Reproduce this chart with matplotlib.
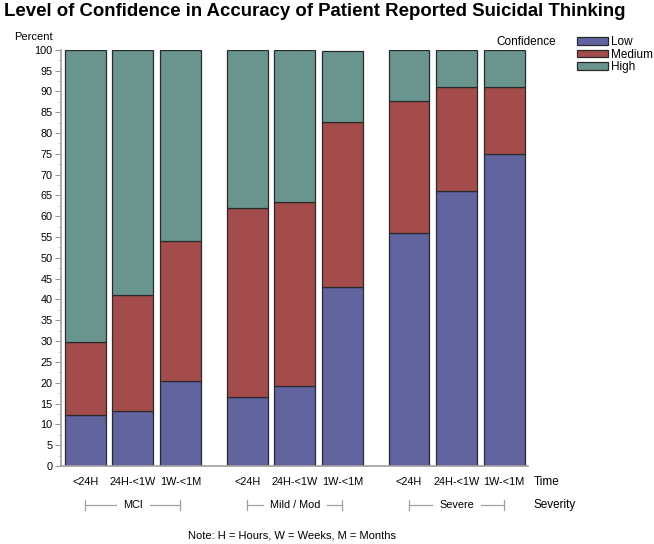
import numpy as np
import matplotlib
matplotlib.use("Agg")
import matplotlib.pyplot as plt
from matplotlib.transforms import blended_transform_factory
from matplotlib.ticker import MultipleLocator

plt.rcParams["font.family"] = ["Liberation Sans", "DejaVu Sans"]

severity = ["MCI", "Mild / Mod", "Severe"]
time_labels = ["<24H", "24H-<1W", "1W-<1M"]
low = [12.2, 13.1, 20.5, 16.5, 19.3, 43.0, 56.0, 66.1, 75.0]
medium = [17.6, 28.0, 33.5, 45.5, 44.2, 39.6, 31.6, 25.0, 16.1]
high = [70.2, 58.9, 46.0, 38.0, 36.5, 17.2, 12.4, 8.9, 8.9]
confidence = ["Low", "Medium", "High"]
colors = ["#6264a0", "#a44c4c", "#6a958f"]

# bar positions: three bars per severity group, gap between groups
group_step = 3.4
xpos = np.array([g * group_step + b for g in range(len(severity)) for b in range(len(time_labels))])

fig = plt.figure(figsize=(6.54, 5.44), dpi=100)
W, H = 654, 544
ax = fig.add_axes([61 / W, 78 / H, (528 - 61) / W, (466 - 49.7) / H])

bottom = np.zeros(len(xpos))
for vals, lab, col in zip([low, medium, high], confidence, colors):
    ax.bar(xpos, vals, width=0.86, bottom=bottom, color=col, edgecolor="#2a2a2a",
           linewidth=0.9, label=lab)
    bottom += np.array(vals)

ax.set_xlim(-0.51, 9.3)
ax.set_ylim(0, 100)
ax.yaxis.set_major_locator(MultipleLocator(5))
ax.yaxis.set_minor_locator(MultipleLocator(2.5))
ax.tick_params(axis="y", which="major", length=4, width=0.8, color="#999999",
               labelsize=7.8, pad=2)
ax.tick_params(axis="y", which="minor", length=2, width=0.6, color="#bbbbbb")
ax.set_xticks([])
for s in ["top", "right"]:
    ax.spines[s].set_visible(False)
for s in ["left", "bottom"]:
    ax.spines[s].set_color("#a0a0a0")
    ax.spines[s].set_linewidth(1.2)

tr = blended_transform_factory(ax.transData, fig.transFigure)
y_time = 1 - 482 / H
y_sev = 1 - 505 / H
for x, lab in zip(xpos, time_labels * len(severity)):
    ax.text(x, y_time, lab, transform=tr, ha="center", va="center", fontsize=7.8)

fig.text(534 / W, y_time, "Time", ha="left", va="center", fontsize=8.5)
fig.text(534 / W, y_sev, "Severity", ha="left", va="center", fontsize=8.5)
fig.text(292 / W, 1 - 535 / H, "Note: H = Hours, W = Weeks, M = Months", ha="center",
         va="center", fontsize=8)
fig.text(14 / W, 1 - 37 / H, "Percent", ha="left", va="center", fontsize=8)
fig.text(4 / W, 1 - 11 / H, "Level of Confidence in Accuracy of Patient Reported Suicidal Thinking",
         ha="left", va="center", fontsize=13.4, fontweight="bold")
fig.text(496 / W, 1 - 42 / H, "Confidence", ha="left", va="center", fontsize=8.5)

handles, labels = ax.get_legend_handles_labels()
fig.legend(handles, labels, loc="upper left", bbox_to_anchor=(577 / W, 1 - 36 / H),
           frameon=False, fontsize=8.5, handlelength=2.6, handleheight=0.65,
           labelspacing=0.05, handletextpad=0.3, borderpad=0, borderaxespad=0)

# severity group labels with bracket lines that stop short of the text
sev_texts = []
for g, name in enumerate(severity):
    xm = (xpos[g * 3] + xpos[g * 3 + 2]) / 2
    sev_texts.append(ax.text(xm, y_sev, name, transform=tr, ha="center", va="center",
                             fontsize=7.8))
fig.canvas.draw()
inv = ax.transData.inverted()
pad_px = 7
for g, t in enumerate(sev_texts):
    x0 = xpos[g * 3]
    x2 = xpos[g * 3 + 2]
    bb = t.get_window_extent()
    xl = inv.transform((bb.x0 - pad_px, 0))[0]
    xr = inv.transform((bb.x1 + pad_px, 0))[0]
    ax.plot([x0, xl], [y_sev, y_sev], transform=tr, color="#a0a0a0", lw=0.9, clip_on=False)
    ax.plot([xr, x2], [y_sev, y_sev], transform=tr, color="#a0a0a0", lw=0.9, clip_on=False)
    for xe in (x0, x2):
        ax.plot([xe, xe], [y_sev - 0.009, y_sev + 0.009], transform=tr, color="#a0a0a0",
                lw=0.9, clip_on=False)

fig.savefig("out.png", dpi=100)
